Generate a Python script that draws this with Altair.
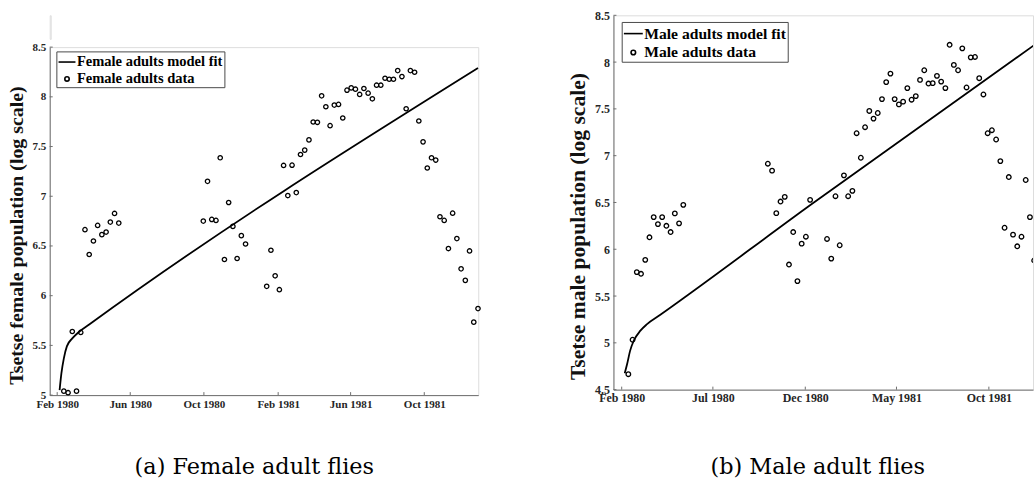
import altair as alt
import pandas as pd

# ---------------- data ----------------
FIRST_SAMPLE = pd.Timestamp("1980-02-12")   # weekly samples start here
ORIGIN = pd.Timestamp("1980-02-01")          # model-fit knot days are counted from here

female_weeks = list(range(0, 14)) + list(range(33, 44)) + list(range(48, 99))
female_vals = [5.04, 5.024, 5.64, 5.04, 5.63, 6.664, 6.414, 6.55, 6.707, 6.614, 6.64, 6.74, 6.827, 6.73,
               6.75, 7.15, 6.767, 6.757, 7.387, 6.364, 6.937, 6.697, 6.374, 6.604, 6.52,
               6.094, 6.457, 6.2, 6.06, 7.31, 7.007, 7.313, 7.037, 7.42, 7.464, 7.567, 7.747,
               7.744, 8.01, 7.9, 7.71, 7.917, 7.924, 7.787, 8.067, 8.09, 8.077, 8.024, 8.084,
               8.037, 7.98, 8.117, 8.117, 8.187, 8.177, 8.177, 8.264, 8.204, 7.88, 8.264, 8.247,
               7.757, 7.547, 7.284, 7.387, 7.364, 6.794, 6.757, 6.474, 6.83, 6.574, 6.27, 6.154,
               6.45, 5.734, 5.87]

male_weeks = list(range(0, 14)) + list(range(33, 44)) + list(range(47, 97))
male_vals = [4.665, 5.033, 5.756, 5.738, 5.887, 6.128, 6.344, 6.269, 6.344, 6.251, 6.184, 6.383, 6.277, 6.475,
             6.914, 6.84, 6.386, 6.51, 6.56, 5.837, 6.184, 5.66, 6.06, 6.134, 6.528,
             6.11, 5.9, 6.567, 6.043, 6.79, 6.567, 6.624, 7.24, 6.978, 7.304, 7.478, 7.396,
             7.456, 7.605, 7.786, 7.877, 7.605, 7.548, 7.577, 7.722, 7.598, 7.637, 7.81, 7.913,
             7.771, 7.775, 7.853, 7.792, 7.722, 8.185, 7.97, 7.913, 8.147, 7.729, 8.051, 8.055,
             7.828, 7.654, 7.24, 7.272, 7.173, 6.942, 6.23, 6.772, 6.156, 6.032, 6.134, 6.74,
             6.344, 5.88]

female_fit_days = [4, 7, 11, 16, 25, 35, 53, 697]
female_fit_vals = [5.05, 5.22, 5.37, 5.49, 5.57, 5.63, 5.71, 8.29]
male_fit_days = [5, 9, 14, 20, 31, 42, 64, 313, 697]
male_fit_vals = [4.675, 4.774, 4.917, 5.023, 5.13, 5.2, 5.30, 6.475, 8.246]

female_xticks = ["1980-02-01", "1980-06-01", "1980-10-01", "1981-02-01", "1981-06-01", "1981-10-01"]
male_xticks = ["1980-02-01", "1980-07-01", "1980-12-01", "1981-05-01", "1981-10-01"]
female_yticks = [5, 5.5, 6, 6.5, 7, 7.5, 8, 8.5]
male_yticks = [4.5, 5, 5.5, 6, 6.5, 7, 7.5, 8, 8.5]

SERIF = "Liberation Serif"
AXIS_GRAY = "#6e6e6e"
LABEL = "#262626"


def iso(ts):
    return ts.strftime("%Y-%m-%dT%H:%M:%S")


def to_dt(s):
    t = pd.Timestamp(s)
    return alt.DateTime(year=t.year, month=t.month, date=t.day, hours=t.hour, minutes=t.minute)


def panel(weeks, vals, fit_days, fit_vals, xticks, yticks, ydom, xdom, W, H,
          fit_label, data_label, ytitle, caption, fs, sym_size, circ_r,
          leg_x, leg_y, title_pad, title_y, cap_offset, cap_dx, clip):
    data = pd.DataFrame({
        "date": [iso(FIRST_SAMPLE + pd.Timedelta(days=7 * w)) for w in weeks],
        "value": vals,
        "series": data_label,
    })
    fit = pd.DataFrame({
        "date": [iso(ORIGIN + pd.Timedelta(days=d)) for d in fit_days],
        "value": fit_vals,
    })
    xt = pd.DataFrame({"date": [s + "T00:00:00" for s in xticks]})
    yt = pd.DataFrame({"value": yticks})

    xscale = alt.Scale(domain=[to_dt(xdom[0]), to_dt(xdom[1])])
    yscale = alt.Scale(domain=ydom, nice=False, zero=False)

    xenc = alt.X("date:T", scale=xscale, axis=alt.Axis(
        values=[to_dt(s) for s in xticks], format="%b %Y", title=None, tickSize=0,
        labelFont=SERIF, labelFontWeight="bold", labelFontSize=fs["tick"], labelColor=LABEL,
        labelPadding=3, labelFlush=False, labelOverlap=False, grid=False,
        domainColor=AXIS_GRAY, domainWidth=1))
    yenc = alt.Y("value:Q", scale=yscale, axis=alt.Axis(
        values=yticks, format="~g", title=ytitle, tickSize=0,
        labelFont=SERIF, labelFontWeight="bold", labelFontSize=fs["tick"], labelColor=LABEL,
        labelPadding=4, labelOverlap=False, grid=False,
        titleFont=SERIF, titleFontWeight="bold", titleFontSize=fs["title"], titleColor="#111111",
        titlePadding=title_pad, titleY=title_y, domainColor=AXIS_GRAY, domainWidth=1))

    circle = f"M{circ_r},0A{circ_r},{circ_r},0,1,1,-{circ_r},0A{circ_r},{circ_r},0,1,1,{circ_r},0Z"

    line = alt.Chart(fit).mark_line(color="black", strokeWidth=1.8, interpolate="monotone",
                                    clip=clip).encode(x=xenc, y=yenc)
    pts = alt.Chart(data).mark_point(filled=False, color="black", size=sym_size, strokeWidth=1.3,
                                     opacity=1, clip=clip).encode(
        x="date:T", y="value:Q",
        shape=alt.Shape("series:N",
                        scale=alt.Scale(domain=[fit_label, data_label], range=["M-1,0H1", circle]),
                        legend=alt.Legend(title=None, orient="none", legendX=leg_x, legendY=leg_y,
                                          strokeColor="#4a4a4a", fillColor="white", padding=1.2,
                                          rowPadding=0, labelOffset=0.5,
                                          labelFont=SERIF, labelFontWeight="bold",
                                          labelFontSize=fs["legend"], labelColor="black",
                                          symbolSize=sym_size, symbolStrokeWidth=1.6,
                                          symbolStrokeColor="black", symbolFillColor="transparent")))
    xticks_rule = alt.Chart(xt).mark_rule(color=AXIS_GRAY, strokeWidth=1).encode(
        x="date:T", y=alt.value(H), y2=alt.value(H - 3))
    yticks_rule = alt.Chart(yt).mark_rule(color=AXIS_GRAY, strokeWidth=1).encode(
        y="value:Q", x=alt.value(0), x2=alt.value(3))

    return alt.layer(line, pts, xticks_rule, yticks_rule).properties(
        width=W, height=H,
        title=alt.TitleParams(caption, orient="bottom", anchor="middle", frame="group",
                              font="DejaVu Serif", fontSize=22.5, fontWeight="normal",
                              color="black", offset=cap_offset, dx=cap_dx))


left = panel(female_weeks, female_vals, female_fit_days, female_fit_vals,
             female_xticks, female_yticks, [5, 8.5],
             ("1980-01-19T14:24", "1981-12-29T09:00"), 431, 350,
             "Female adults model fit", "Female adults data",
             "Tsetse female population (log scale)", "(a) Female adult flies",
             {"tick": 11.1, "title": 20, "legend": 14.6}, 289, 0.26,
             6.7, 4.3, 5.5, 189, 47, -9.7, False)

right = panel(male_weeks, male_vals, male_fit_days, male_fit_vals,
              male_xticks, male_yticks, [4.5, 8.5],
              ("1980-01-18T08:00", "1981-12-13T02:00"), 422, 376.5,
              "Male adults model fit", "Male adults data",
              "Tsetse male population (log scale)", "(b) Male adult flies",
              {"tick": 12, "title": 21.7, "legend": 15.7}, 361, 0.242,
              8.3, 6.7, 4.7, 212, 53, -5.5, True)

# empty block above the left panel: the left figure sits lower on the page
spacer = alt.Chart(pd.DataFrame({"a": [0]})).mark_point(opacity=0).encode(
    x=alt.value(0), y=alt.value(0)).properties(width=1, height=23.7)

left_col = alt.vconcat(spacer, left, spacing=0).resolve_scale(
    shape="independent").resolve_legend(shape="independent")

chart = alt.hconcat(left_col, right, spacing=83,
                    padding={"left": 6, "top": 7, "right": 0, "bottom": 0}).resolve_scale(
    shape="independent").resolve_legend(shape="independent").configure_view(
    stroke=None, fill="white").configure(background="white")

chart.save("out.html", embed_options={"renderer": "svg", "actions": False})
